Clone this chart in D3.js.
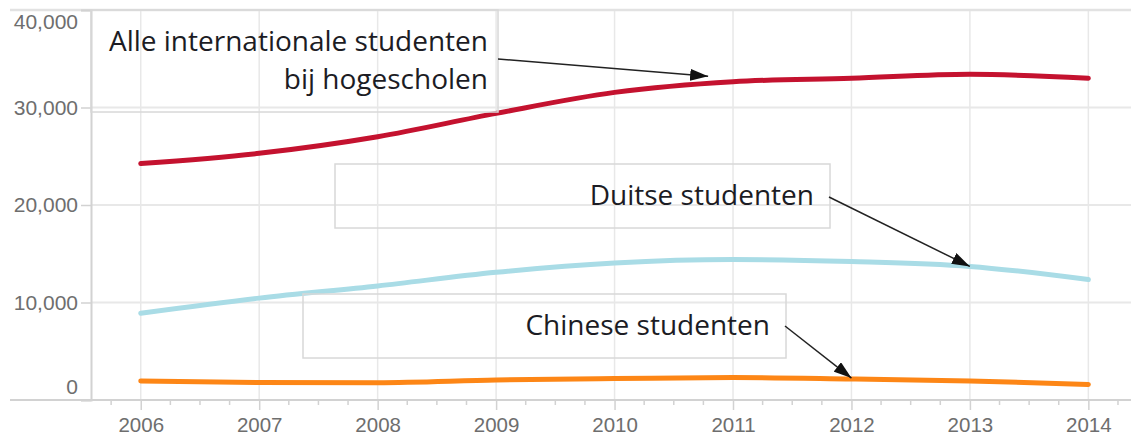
<!DOCTYPE html>
<html>
<head>
<meta charset="utf-8">
<script src="https://cdn.jsdelivr.net/npm/d3@7"></script>
<style>
  html, body { margin: 0; padding: 0; background: #fff; }
  svg { display: block; }
</style>
</head>
<body>
<svg id="chart" width="1131" height="436"></svg>
<script>
// ---- data ----
const years = [2006, 2007, 2008, 2009, 2010, 2011, 2012, 2013, 2014];
const alleInternationaal = [24250, 25300, 27000, 29400, 31550, 32650, 33000, 33400, 33000];
const duitse = [8900, 10450, 11700, 13100, 14050, 14400, 14200, 13700, 12350];
const chinese = [1950, 1800, 1780, 2050, 2200, 2300, 2150, 1950, 1600];
const yTicks = [0, 10000, 20000, 30000, 40000];
const seriesNames = ["Alle internationale studenten bij hogescholen", "Duitse studenten", "Chinese studenten"];

// ---- layout ----
const W = 1131, H = 436;
const plotLeft = 91, plotRight = 1131, plotTop = 10, plotBottom = 400;
const svg = d3.select("#chart");

const x = d3.scaleLinear().domain([2005.58, 2014.36]).range([plotLeft, plotRight]);
const y = d3.scaleLinear().domain([0, 40000]).range([plotBottom, plotTop]);

const gridColor = "#e8e8e8";
const axisColor = "#d2d2d2";
const labelColor = "#6e6e6e";

// vertical gridlines (years)
svg.append("g").selectAll("line").data(years).join("line")
  .attr("x1", d => x(d)).attr("x2", d => x(d))
  .attr("y1", plotTop).attr("y2", plotBottom)
  .attr("stroke", gridColor).attr("stroke-width", 1.5);

// horizontal gridlines
svg.append("g").selectAll("line").data(yTicks.filter(t => t > 0 && t < 40000)).join("line")
  .attr("x1", plotLeft).attr("x2", plotRight)
  .attr("y1", d => y(d)).attr("y2", d => y(d))
  .attr("stroke", gridColor).attr("stroke-width", 2);

// top line
svg.append("line").attr("x1", 10).attr("x2", W).attr("y1", y(40000)).attr("y2", y(40000))
  .attr("stroke", "#e2e2e2").attr("stroke-width", 2.5);

// y axis
const yAxis = d3.axisLeft(y).tickValues(yTicks).tickSize(10).tickFormat(d3.format(","));
const gy = svg.append("g").attr("transform", `translate(${plotLeft},0)`).call(yAxis);
gy.select(".domain").attr("stroke", axisColor).attr("stroke-width", 2);
gy.selectAll(".tick line").attr("stroke", axisColor).attr("stroke-width", 1.5);
gy.selectAll(".tick text")
  .attr("fill", labelColor)
  .attr("font-family", "'Liberation Sans', Arial, sans-serif")
  .attr("font-size", 21)
  .attr("x", -13)
  .attr("dy", d => d === 0 ? "-0.3em" : d === 40000 ? "0.9em" : "0.32em");

// x axis
const xAxis = d3.axisBottom(x).tickValues(years).tickSize(10).tickFormat(d3.format("d"));
const gx = svg.append("g").attr("transform", `translate(0,${plotBottom})`).call(xAxis);
gx.select(".domain").remove();
gx.selectAll(".tick line").attr("stroke", axisColor).attr("stroke-width", 1.5);
gx.selectAll(".tick text")
  .attr("fill", labelColor)
  .attr("font-family", "'Liberation Sans', Arial, sans-serif")
  .attr("font-size", 20.5)
  .attr("y", 17);

// minor ticks (quarter years)
const minor = d3.range(2005.75, 2014.3, 0.25).filter(v => Math.abs(v - Math.round(v)) > 0.01);
svg.append("g").selectAll("line").data(minor).join("line")
  .attr("x1", d => x(d)).attr("x2", d => x(d))
  .attr("y1", plotBottom).attr("y2", plotBottom + 5)
  .attr("stroke", axisColor).attr("stroke-width", 1.5);

// baseline axis line
svg.append("line").attr("x1", 10).attr("x2", W).attr("y1", plotBottom).attr("y2", plotBottom)
  .attr("stroke", axisColor).attr("stroke-width", 2);

// ---- lines ----
const line = d3.line().x((d, i) => x(years[i])).y(d => y(d)).curve(d3.curveMonotoneX);
const series = [
  { name: seriesNames[0], values: alleInternationaal, color: "#c4122f" },
  { name: seriesNames[1], values: duitse, color: "#a9dce6" },
  { name: seriesNames[2], values: chinese, color: "#fd8616" }
];
svg.append("g").selectAll("path").data(series).join("path")
  .attr("d", d => line(d.values))
  .attr("fill", "none")
  .attr("stroke", d => d.color)
  .attr("stroke-width", 5)
  .attr("stroke-linecap", "round")
  .attr("stroke-linejoin", "round");

// ---- annotations ----
const defs = svg.append("defs");
defs.append("marker").attr("id", "arrow")
  .attr("viewBox", "0 0 18 12").attr("refX", 18).attr("refY", 6)
  .attr("markerWidth", 18).attr("markerHeight", 12)
  .attr("markerUnits", "userSpaceOnUse").attr("orient", "auto")
  .append("path").attr("d", "M0,0 L18,6 L0,12 Z").attr("fill", "#111");

const annotations = [
  { lines: ["Alle internationale studenten", "bij hogescholen"], box: [91, 10, 498, 112],
    textRight: 488, baselines: [51, 89], from: [498, 59], to: [x(2010.79), y(33200)] },
  { lines: ["Duitse studenten"], box: [335, 164, 830, 228],
    textRight: 814, baselines: [205], from: [829, 197], to: [x(2013), y(duitse[7])] },
  { lines: ["Chinese studenten"], box: [303, 294, 786, 358],
    textRight: 770, baselines: [335], from: [785, 326], to: [x(2012), y(chinese[6]) - 1] }
];

const ag = svg.append("g");
annotations.forEach(a => {
  ag.append("rect")
    .attr("x", a.box[0]).attr("y", a.box[1])
    .attr("width", a.box[2] - a.box[0]).attr("height", a.box[3] - a.box[1])
    .attr("fill", "none").attr("stroke", "#d8d8d8").attr("stroke-width", 1.5);
  a.lines.forEach((t, i) => {
    ag.append("text")
      .attr("x", a.textRight).attr("y", a.baselines[i])
      .attr("text-anchor", "end")
      .attr("font-family", "'Open Sans', sans-serif")
      .attr("font-size", 28)
      .attr("fill", "#1c1c24")
      .text(t);
  });
  ag.append("line")
    .attr("x1", a.from[0]).attr("y1", a.from[1])
    .attr("x2", a.to[0]).attr("y2", a.to[1])
    .attr("stroke", "#222").attr("stroke-width", 1.5)
    .attr("marker-end", "url(#arrow)");
});
</script>
</body>
</html>
